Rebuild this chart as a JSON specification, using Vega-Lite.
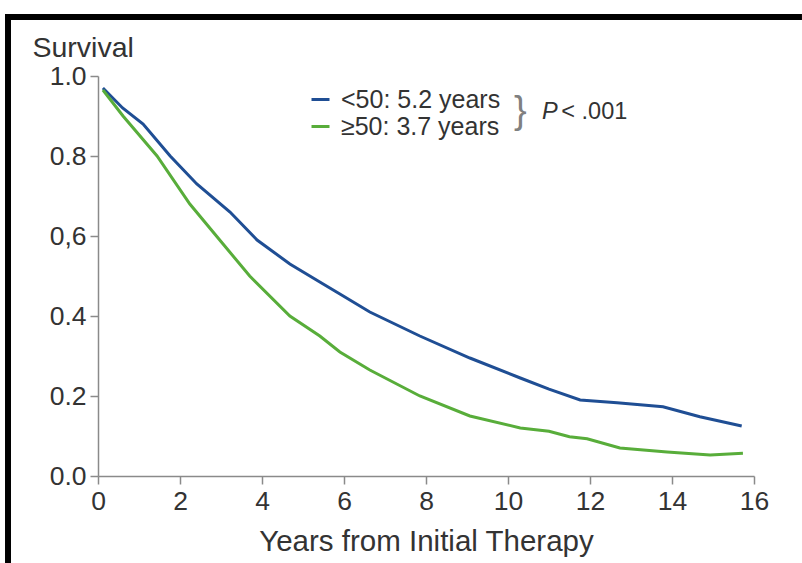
{
  "$schema": "https://vega.github.io/schema/vega-lite/v6.json",
  "width": 656,
  "height": 400,
  "autosize": {"type": "none"},
  "padding": {"left": 98, "top": 76, "right": 48, "bottom": 87},
  "background": "white",
  "config": {
    "view": {"stroke": null},
    "font": "Liberation Sans",
    "axis": {
      "grid": false,
      "labelFlush": false,
      "domainColor": "#8a8a8a",
      "domainWidth": 1.5,
      "tickColor": "#8a8a8a",
      "tickWidth": 1.5,
      "tickSize": 8,
      "labelFont": "Liberation Sans",
      "labelFontSize": 26.5,
      "labelColor": "#333333",
      "titleFont": "Liberation Sans",
      "titleFontSize": 29.5,
      "titleFontWeight": "normal",
      "titleColor": "#333333"
    }
  },
  "datasets": {
    "survival": [
      {"group": "<50: 5.2 years", "years": 0.12, "survival": 0.97},
      {"group": "<50: 5.2 years", "years": 0.6, "survival": 0.92},
      {"group": "<50: 5.2 years", "years": 1.1, "survival": 0.88},
      {"group": "<50: 5.2 years", "years": 1.76, "survival": 0.8},
      {"group": "<50: 5.2 years", "years": 2.41, "survival": 0.73},
      {"group": "<50: 5.2 years", "years": 3.22, "survival": 0.66},
      {"group": "<50: 5.2 years", "years": 3.88, "survival": 0.59},
      {"group": "<50: 5.2 years", "years": 4.68, "survival": 0.53},
      {"group": "<50: 5.2 years", "years": 5.41, "survival": 0.485},
      {"group": "<50: 5.2 years", "years": 5.9, "survival": 0.455},
      {"group": "<50: 5.2 years", "years": 6.63, "survival": 0.41},
      {"group": "<50: 5.2 years", "years": 7.85, "survival": 0.35},
      {"group": "<50: 5.2 years", "years": 9.07, "survival": 0.295},
      {"group": "<50: 5.2 years", "years": 10.3, "survival": 0.245},
      {"group": "<50: 5.2 years", "years": 11.0, "survival": 0.217},
      {"group": "<50: 5.2 years", "years": 11.76, "survival": 0.19},
      {"group": "<50: 5.2 years", "years": 12.66, "survival": 0.183},
      {"group": "<50: 5.2 years", "years": 13.78, "survival": 0.173},
      {"group": "<50: 5.2 years", "years": 14.68, "survival": 0.148},
      {"group": "<50: 5.2 years", "years": 15.7, "survival": 0.125},
      {"group": "≥50: 3.7 years", "years": 0.12, "survival": 0.965},
      {"group": "≥50: 3.7 years", "years": 0.61, "survival": 0.9},
      {"group": "≥50: 3.7 years", "years": 1.44, "survival": 0.8},
      {"group": "≥50: 3.7 years", "years": 2.24, "survival": 0.68},
      {"group": "≥50: 3.7 years", "years": 3.05, "survival": 0.58},
      {"group": "≥50: 3.7 years", "years": 3.7, "survival": 0.5},
      {"group": "≥50: 3.7 years", "years": 4.68, "survival": 0.4},
      {"group": "≥50: 3.7 years", "years": 5.41, "survival": 0.35},
      {"group": "≥50: 3.7 years", "years": 5.9, "survival": 0.31},
      {"group": "≥50: 3.7 years", "years": 6.63, "survival": 0.265},
      {"group": "≥50: 3.7 years", "years": 7.85, "survival": 0.2},
      {"group": "≥50: 3.7 years", "years": 9.07, "survival": 0.15},
      {"group": "≥50: 3.7 years", "years": 10.3, "survival": 0.12},
      {"group": "≥50: 3.7 years", "years": 11.0, "survival": 0.112},
      {"group": "≥50: 3.7 years", "years": 11.5, "survival": 0.098},
      {"group": "≥50: 3.7 years", "years": 11.93, "survival": 0.093},
      {"group": "≥50: 3.7 years", "years": 12.73, "survival": 0.07},
      {"group": "≥50: 3.7 years", "years": 13.88, "survival": 0.06},
      {"group": "≥50: 3.7 years", "years": 14.93, "survival": 0.0525},
      {"group": "≥50: 3.7 years", "years": 15.73, "survival": 0.057}
    ]
  },
  "layer": [
    {
      "data": {"name": "survival"},
      "mark": {"type": "line", "strokeWidth": 3},
      "encoding": {
        "x": {
          "field": "years",
          "type": "quantitative",
          "scale": {"domain": [0, 16], "nice": false, "zero": false},
          "axis": {
            "values": [0, 2, 4, 6, 8, 10, 12, 14, 16],
            "labelPadding": 4,
            "title": "Years from Initial Therapy",
            "titlePadding": 13
          }
        },
        "y": {
          "field": "survival",
          "type": "quantitative",
          "scale": {"domain": [0, 1], "nice": false, "zero": false},
          "axis": {
            "values": [0, 0.2, 0.4, 0.6, 0.8, 1.0],
            "format": ".1f",
            "labelExpr": "datum.value === 0.6 ? '0,6' : datum.label",
            "labelPadding": 4,
            "title": "Survival",
            "titleAngle": 0,
            "titleAlign": "left",
            "titleBaseline": "alphabetic",
            "titleFontSize": 28.5,
            "titleX": -66,
            "titleY": -20
          }
        },
        "color": {
          "field": "group",
          "type": "nominal",
          "scale": {
            "domain": ["<50: 5.2 years", "≥50: 3.7 years"],
            "range": ["#1f4e94", "#58ad3a"]
          },
          "legend": {
            "title": null,
            "orient": "none",
            "legendX": 210,
            "legendY": 11,
            "padding": 0,
            "symbolType": "stroke",
            "symbolSize": 324,
            "symbolStrokeWidth": 3,
            "labelFont": "Liberation Sans",
            "labelFontSize": 25,
            "labelLimit": 400,
            "labelColor": "#333333",
            "labelOffset": 8,
            "rowPadding": 1
          }
        }
      }
    },
    {
      "data": {"values": [{}]},
      "mark": {"type": "text", "text": "}", "fontSize": 38, "color": "#808080", "align": "center", "baseline": "middle"},
      "encoding": {
        "x": {"datum": 10.3, "type": "quantitative", "scale": {"domain": [0, 16]}},
        "y": {"datum": 0.91, "type": "quantitative", "scale": {"domain": [0, 1]}}
      }
    },
    {
      "data": {"values": [{}]},
      "mark": {"type": "text", "text": "P", "fontSize": 23.5, "fontStyle": "italic", "color": "#333333", "align": "left", "baseline": "middle"},
      "encoding": {
        "x": {"datum": 10.83, "type": "quantitative", "scale": {"domain": [0, 16]}},
        "y": {"datum": 0.91, "type": "quantitative", "scale": {"domain": [0, 1]}}
      }
    },
    {
      "data": {"values": [{}]},
      "mark": {"type": "text", "text": "< .001", "fontSize": 23.5, "color": "#333333", "align": "left", "baseline": "middle"},
      "encoding": {
        "x": {"datum": 11.3, "type": "quantitative", "scale": {"domain": [0, 16]}},
        "y": {"datum": 0.91, "type": "quantitative", "scale": {"domain": [0, 1]}}
      }
    },
    {
      "data": {"values": [{}]},
      "mark": {"type": "rect", "fill": "black", "strokeWidth": 0, "clip": false},
      "encoding": {
        "x": {"datum": -2.268, "type": "quantitative", "scale": {"domain": [0, 16]}},
        "x2": {"datum": 17.17},
        "y": {"datum": 1.155, "type": "quantitative", "scale": {"domain": [0, 1]}},
        "y2": {"datum": 1.14}
      }
    },
    {
      "data": {"values": [{}]},
      "mark": {"type": "rect", "fill": "black", "strokeWidth": 0, "clip": false},
      "encoding": {
        "x": {"datum": -2.268, "type": "quantitative", "scale": {"domain": [0, 16]}},
        "x2": {"datum": -2.122},
        "y": {"datum": 1.155, "type": "quantitative", "scale": {"domain": [0, 1]}},
        "y2": {"datum": -0.2175}
      }
    }
  ]
}
